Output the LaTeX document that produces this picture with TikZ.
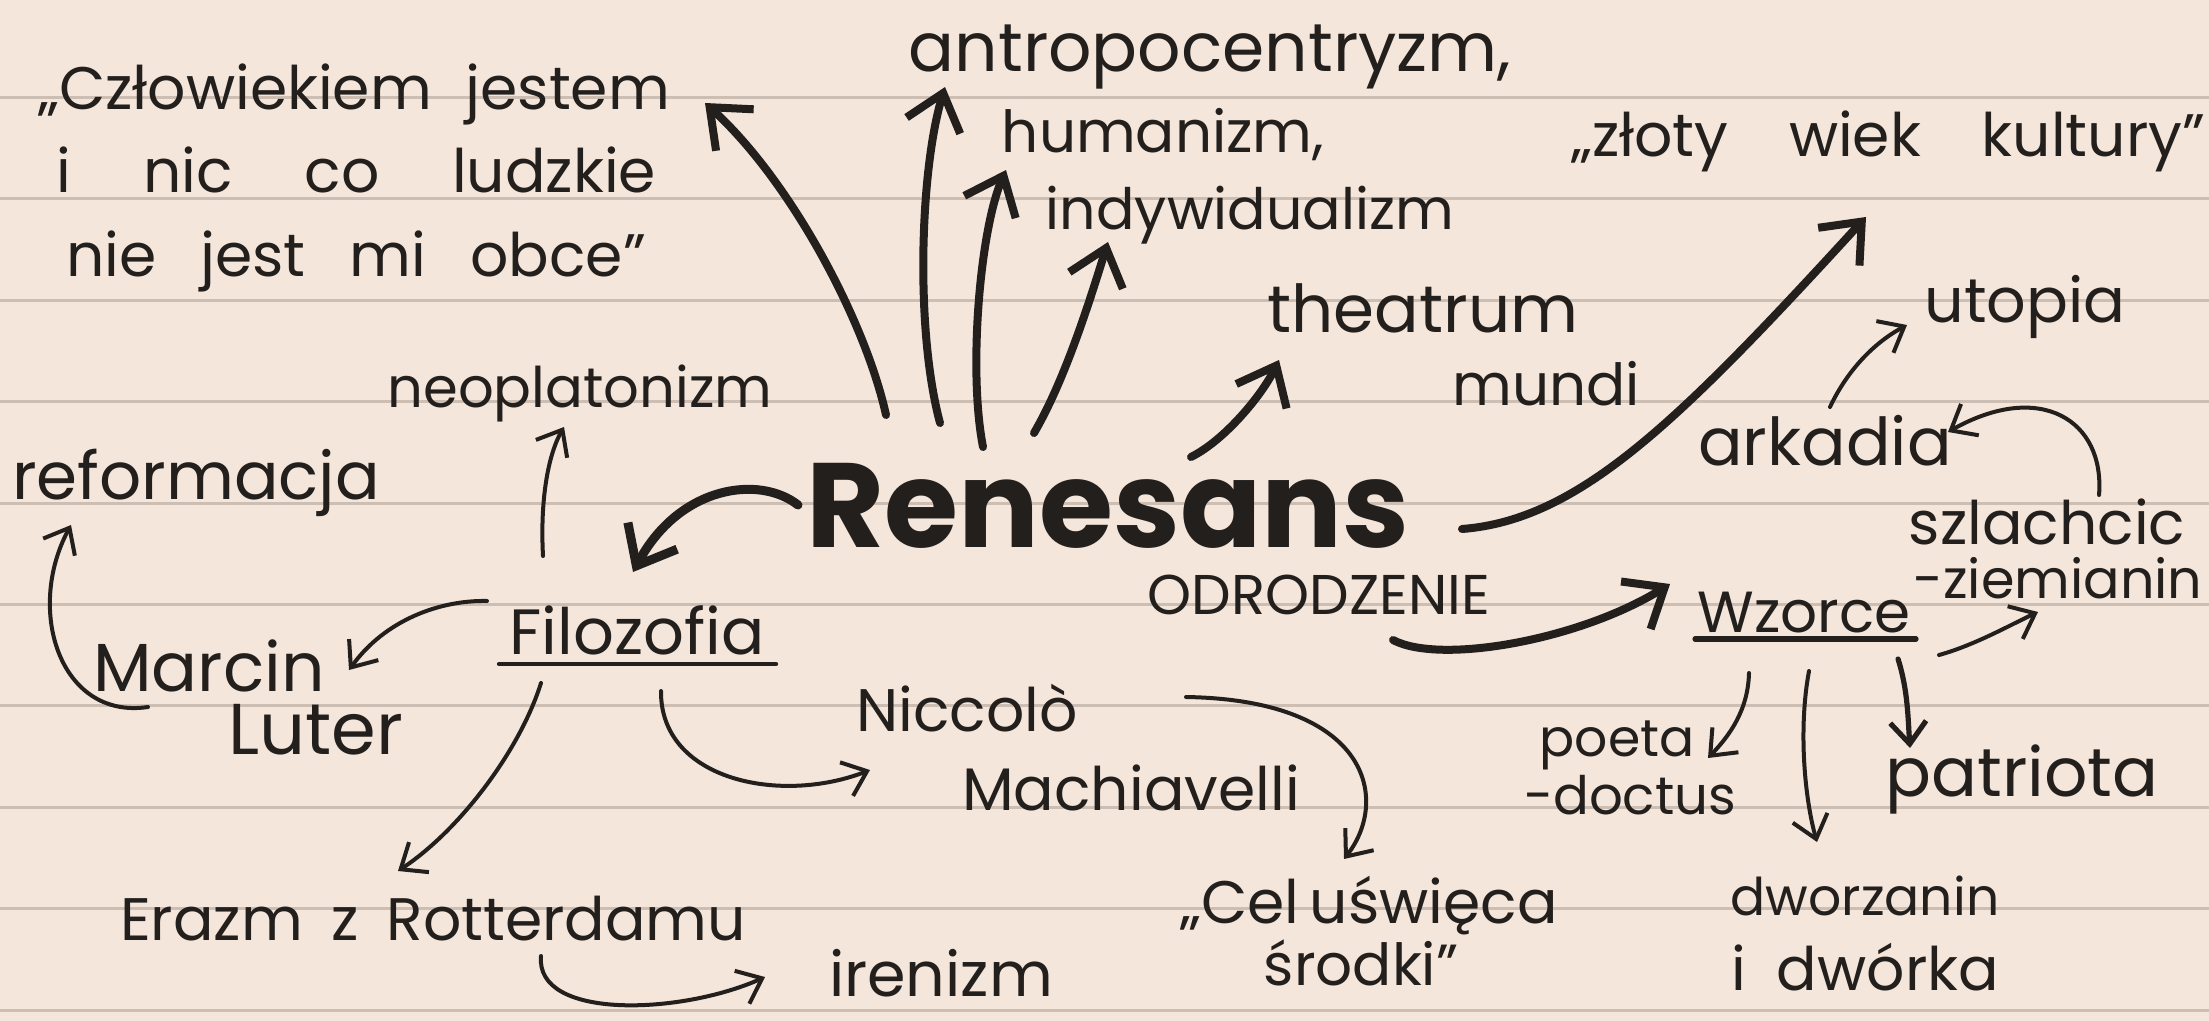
\documentclass[tikz,border=0pt]{standalone}
\usepackage{fontspec}
\setmainfont{Poppins}
\usetikzlibrary{arrows.meta}
\definecolor{paper}{HTML}{F4E6DB}
\definecolor{ruleline}{HTML}{CDBEB3}
\definecolor{ink}{HTML}{221F1D}
\newcommand{\fs}[1]{\fontsize{#1}{#1}\selectfont}
\newcommand{\sw}[2]{\makebox[#1][s]{#2}}
\tikzset{
  hw/.style={text=ink, inner sep=0pt, anchor=base},
  thickarr/.style={draw=ink, line width=4pt, line cap=round, line join=round,
    -{Straight Barb[length=17pt,width=28pt]}},
  thinarr/.style={draw=ink, line width=2pt, line cap=round, line join=round,
    -{Straight Barb[length=11pt,width=18pt]}},
  uline/.style={draw=ink, line width=2.2pt, line cap=round},
}
\begin{document}
\begin{tikzpicture}[x=0.5pt,y=-0.5pt]
\useasboundingbox (0,0) rectangle (2209,1021);
\fill[paper] (0,0) rectangle (2209,1021);
\foreach \k in {0,...,9}
  \draw[ruleline, line width=1.5pt] (0,{97.5+101.4*\k}) -- (2209,{97.5+101.4*\k});

% ---------- texts ----------
\node[hw, font=\fs{30}] (q1a) at (354,110) {\sw{316pt}{„Człowiekiem jestem}};
\node[hw, font=\fs{30}] (q1b) at (356,193) {\sw{300pt}{i nic co ludzkie}};
\node[hw, font=\fs{30}] (q1c) at (356,277) {\sw{290pt}{nie jest mi obce”}};

\node[hw, font=\fs{34}] (ant) at (1210,72) {antropocentryzm,};
\node[hw, font=\fs{29}] (hum) at (1163,153) {humanizm,};
\node[hw, font=\fs{28.5}] (ind) at (1250,230) {indywidualizm};

\node[hw, font=\fs{30}] (zloty) at (1888,157) {\sw{317pt}{„złoty wiek kultury”}};
\node[hw, font=\fs{31}] (utopia) at (2025,323) {utopia};
\node[hw, font=\fs{33}] (theat) at (1423,333) {theatrum};
\node[hw, font=\fs{29}] (mundi) at (1546,405) {mundi};

\node[hw, font=\fs{28}] (neo) at (580,408) {neoplatonizm};
\node[hw, font=\fs{33}] (ref) at (196,499) {reformacja};

\node[hw, font=\fs{60}\bfseries, text depth=0pt] (ren) at (1108,547) {Renesans};
\node[hw, font=\fs{28}] (odr) at (1319,614) {ODRODZENIE};

\node[hw, font=\fs{33}] (ark) at (1825,465) {arkadia};
\node[hw, font=\fs{30}] (szl) at (2047,544) {szlachcic};
\node[hw, font=\fs{27}] (ziem) at (2058,598) {-ziemianin};

\node[hw, font=\fs{32}] (filo) at (637,654) {Filozofia};
\draw[uline] (499,664) -- (776,664);
\node[hw, font=\fs{34}] (marcin) at (209,691) {Marcin};
\node[hw, font=\fs{36}] (luter) at (316,754) {Luter};

\node[hw, font=\fs{29}] (wzorce) at (1804,632) {Wzorce};
\draw[uline, line width=2.6pt] (1695,639) -- (1916,639);

\node[hw, font=\fs{30}] (nicc) at (967,731) {Niccolò};
\node[hw, font=\fs{30}] (mach) at (1131,810) {Machiavelli};

\node[hw, font=\fs{26}] (poeta) at (1617,756) {poeta};
\node[hw, font=\fs{26.5}] (doct) at (1630,814) {-doctus};
\node[hw, font=\fs{34}] (patr) at (2022,796) {patriota};

\node[hw, font=\fs{30}] (eraz) at (433,940) {\sw{313pt}{Erazm z Rotterdamu}};
\node[hw, font=\fs{30}] (cel) at (1360,923) {\sw{180pt}{„Cel uświęca}};
\node[hw, font=\fs{29}] (srod) at (1361,985) {środki”};
\node[hw, font=\fs{26}] (dwor) at (1865,915) {dworzanin};
\node[hw, font=\fs{30}] (dwork) at (1865,990) {\sw{134pt}{i dwórka}};
\node[hw, font=\fs{31}] (iren) at (941,996) {irenizm};

% ---------- connector end points ----------
\coordinate (a1s) at (886,415);  \coordinate (a1e) at (705,103);
\coordinate (a2s) at (940,423);  \coordinate (a2e) at (945,87);
\coordinate (a3s) at (983,447);  \coordinate (a3e) at (1006,170);
\coordinate (a4s) at (1034,433); \coordinate (a4e) at (1108,242);
\coordinate (a5s) at (1191,457); \coordinate (a5e) at (1279,360);
\coordinate (a6s) at (1462,529); \coordinate (a6e) at (1866,217);
\coordinate (a7s) at (798,505);  \coordinate (a7e) at (633,572);
\coordinate (a8s) at (1393,640); \coordinate (a8e) at (1670,584);
\coordinate (a9s) at (543,556);  \coordinate (a9e) at (564,427);
\coordinate (a10s) at (487,601); \coordinate (a10e) at (349,670);
\coordinate (a11s) at (148,707); \coordinate (a11e) at (71,525);
\coordinate (a12s) at (541,683); \coordinate (a12e) at (398,871);
\coordinate (a13s) at (661,691); \coordinate (a13e) at (870,770);
\coordinate (a14s) at (541,956); \coordinate (a14e) at (765,977);
\coordinate (a15s) at (1186,697); \coordinate (a15e) at (1344,859);
\coordinate (a16s) at (1830,407); \coordinate (a16e) at (1907,325);
\coordinate (a17s) at (2099,495); \coordinate (a17e) at (1948,432);
\coordinate (a18s) at (1939,655); \coordinate (a18e) at (2038,612);
\coordinate (a19s) at (1749,673); \coordinate (a19e) at (1708,758);
\coordinate (a20s) at (1809,671); \coordinate (a20e) at (1817,842);
\coordinate (a21s) at (1898,659); \coordinate (a21e) at (1910,748);

% ---------- thick connectors from Renesans ----------
\draw[thickarr] (a1s) .. controls (865,320) and (790,180) .. (a1e);
\draw[thickarr] (a2s) .. controls (915,330) and (920,170) .. (a2e);
\draw[thickarr] (a3s) .. controls (968,370) and (980,230) .. (a3e);
\draw[thickarr] (a4s) .. controls (1065,380) and (1090,300) .. (a4e);
\draw[thickarr] (a5s) .. controls (1225,440) and (1262,395) .. (a5e);
\draw[thickarr] (a6s) .. controls (1580,520) and (1680,420) .. (a6e);
\draw[thickarr, line width=4.5pt] (a7s) .. controls (760,475) and (680,485) .. (a7e);
\draw[thickarr] (a8s) .. controls (1440,665) and (1580,640) .. (a8e);

% ---------- thin connectors ----------
\draw[thinarr] (a9s) .. controls (540,500) and (548,455) .. (a9e);
\draw[thinarr] (a10s) .. controls (440,600) and (385,620) .. (a10e);
\draw[thinarr] (a11s) .. controls (60,720) and (25,610) .. (a11e);
\draw[thinarr] (a12s) .. controls (520,750) and (460,830) .. (a12e);
\draw[thinarr] (a13s) .. controls (660,780) and (780,805) .. (a13e);
\draw[thinarr] (a14s) .. controls (535,1020) and (680,1015) .. (a14e);
\draw[thinarr] (a15s) .. controls (1370,700) and (1390,800) .. (a15e);
\draw[thinarr] (a16s) .. controls (1845,375) and (1870,345) .. (a16e);
\draw[thinarr] (a17s) .. controls (2105,420) and (2040,380) .. (a17e);
\draw[thinarr] (a18s) .. controls (1975,645) and (2010,625) .. (a18e);
\draw[thinarr] (a19s) .. controls (1748,710) and (1730,735) .. (a19e);
\draw[thinarr] (a20s) .. controls (1798,730) and (1805,800) .. (a20e);
\draw[thinarr, line width=2.6pt] (a21s) .. controls (1908,690) and (1908,720) .. (a21e);
\end{tikzpicture}
\end{document}
